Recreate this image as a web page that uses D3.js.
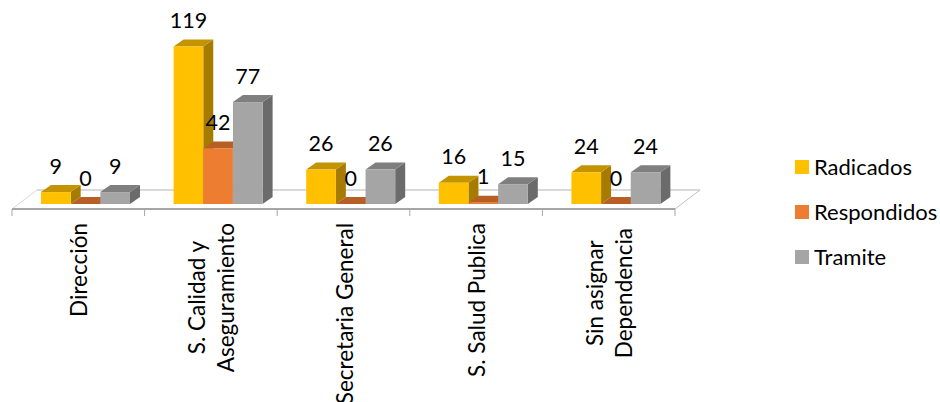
<!DOCTYPE html>
<html><head><meta charset="utf-8">
<script src="https://cdnjs.cloudflare.com/ajax/libs/d3/7.8.5/d3.min.js"></script>
<style>html,body{margin:0;background:#fff}svg{display:block}text{font-family:Lato,sans-serif;fill:#000}</style>
</head><body><svg id="c" width="940" height="402"></svg>
<script>
const categories=[["Dirección"],["S. Calidad y","Aseguramiento"],["Secretaria General"],["S. Salud Publica"],["Sin asignar","Dependencia"]];
const seriesNames=["Radicados","Respondidos","Tramite"];
const radicados=[9,119,26,16,24];
const respondidos=[0,42,0,1,0];
const tramite=[9,77,26,15,24];
const seriesValues=[radicados,respondidos,tramite];
const colors=[["#ffc000","#c49400","#a67c00"],["#ed7d31","#b85f26","#9c4f1f"],["#a5a5a5","#7f7f7f","#6b6b6b"]];

const svg=d3.select("#c");
const x0=d3.scaleBand().domain(d3.range(categories.length)).range([12,675]);
const x1=d3.scaleBand().domain(d3.range(seriesNames.length)).range([29,118]);
const y=d3.scaleLinear().domain([0,119]).range([204,46.5]);
const dx=10,dy=-7;

// floor
const fy=209,by=190,skew=25;
svg.append("polygon").attr("fill","#fff").attr("points",[[12,fy],[675,fy],[675+skew,by],[12+skew,by]].join(" "));
svg.append("line").attr("x1",12+skew).attr("x2",675+skew).attr("y1",by).attr("y2",by).attr("stroke","#d9d9d9").attr("stroke-width",2);
svg.append("line").attr("x1",12).attr("x2",12+skew).attr("y1",fy).attr("y2",by).attr("stroke","#d9d9d9");
svg.append("line").attr("x1",675).attr("x2",675+skew).attr("y1",fy).attr("y2",by).attr("stroke","#bfbfbf");
svg.append("line").attr("x1",12).attr("x2",675).attr("y1",fy).attr("y2",fy).attr("stroke","#a6a6a6").attr("stroke-width",2);
d3.range(categories.length+1).forEach(i=>{
  const t=i<categories.length?x0(i):x0.range()[1];
  svg.append("line").attr("x1",t).attr("x2",t).attr("y1",fy).attr("y2",216).attr("stroke","#a6a6a6");
});

// bars
categories.forEach((c,i)=>{
  const g=svg.append("g").attr("transform",`translate(${x0(i)},0)`);
  seriesValues.forEach((vals,s)=>{
    const l=x1(s),w=x1.bandwidth(),t=y(vals[i]),b=y(0);
    g.append("polygon").attr("fill",colors[s][2]).attr("points",[[l+w,t],[l+w+dx,t+dy],[l+w+dx,b+dy],[l+w,b]].join(" "));
    g.append("polygon").attr("fill",colors[s][1]).attr("points",[[l,t],[l+dx,t+dy],[l+w+dx,t+dy],[l+w,t]].join(" "));
    if(vals[i]>0) g.append("rect").attr("fill",colors[s][0]).attr("x",l).attr("y",t).attr("width",w).attr("height",b-t);
  });
});
// data labels
categories.forEach((c,i)=>{
  seriesValues.forEach((vals,s)=>{
    svg.append("text").attr("x",x0(i)+x1(s)+x1.bandwidth()/2).attr("y",y(vals[i])-26)
      .attr("dy","0.35em").attr("text-anchor","middle").attr("font-size",21.5).text(vals[i]);
  });
});
// category labels (rotated, lines centred on the longest one)
const lineX=29,topY=223;
categories.forEach((lines,i)=>{
  const cx=x0(i)+x0.bandwidth()/2+9;
  const shift=i===categories.length-1?5:0;
  const gg=svg.append("g");
  const ts=lines.map(ln=>gg.append("text").attr("font-size",22.5).attr("text-anchor","middle").text(ln));
  const maxLen=d3.max(ts,t=>t.node().getComputedTextLength());
  ts.forEach((t,j)=>{
    const px=cx+(j-(lines.length-1)/2)*lineX;
    t.attr("transform",`translate(${px},${topY+shift+maxLen/2}) rotate(-90)`);
  });
});
// legend
const legY=d3.scalePoint().domain(seriesNames).range([167,257]);
seriesNames.forEach((n,s)=>{
  svg.append("rect").attr("x",795).attr("y",legY(n)-7).attr("width",14).attr("height",14).attr("fill",colors[s][0]);
  svg.append("text").attr("x",814).attr("y",legY(n)).attr("dy","0.35em").attr("font-size",22).text(n);
});
</script></body></html>
